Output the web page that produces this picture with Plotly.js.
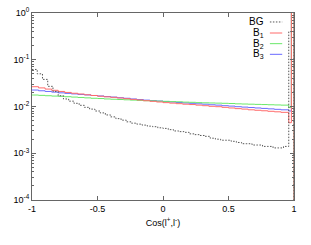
<!DOCTYPE html>
<html><head><meta charset="utf-8">
<script src="https://cdn.plot.ly/plotly-3.0.1.min.js"></script>
<style>html,body{margin:0;padding:0;background:#fff}#plot{width:311px;height:245px}</style>
</head><body><div id="plot"></div>
<script>
// BG histogram: bin left edges (width 0.04) and contents
const bgEdges = [-1.00,-0.96,-0.92,-0.88,-0.84,-0.80,-0.76,-0.72,-0.68,-0.64,-0.60,-0.56,-0.52,-0.48,-0.44,-0.40,-0.36,-0.32,-0.28,-0.24,-0.20,-0.16,-0.12,-0.08,-0.04,0.00,0.04,0.08,0.12,0.16,0.20,0.24,0.28,0.32,0.36,0.40,0.44,0.48,0.52,0.56,0.60,0.64,0.68,0.72,0.76,0.80,0.84,0.88,0.92,0.96];
const bgVals = [0.062,0.050,0.038,0.027,0.021,0.017,0.0145,0.0130,0.0117,0.0106,0.0096,0.0088,0.0080,0.0073,0.0066,0.0060,0.0055,0.0051,0.0047,0.0044,0.0042,0.0040,0.0038,0.0037,0.0035,0.0034,0.0032,0.0030,0.0029,0.0028,0.0026,0.0025,0.0024,0.0023,0.0021,0.0020,0.0019,0.0019,0.0018,0.0017,0.0016,0.0016,0.0015,0.0015,0.0014,0.0014,0.0013,0.0013,0.0014,0.40];
// Signal histograms: bin left edges and contents
const bEdges = [-1.0,-0.95,-0.9,-0.85,-0.8,-0.75,-0.7,-0.65,-0.6,-0.55,-0.5,-0.45,-0.4,-0.35,-0.3,-0.25,-0.2,-0.15,-0.1,-0.05,0.0,0.05,0.1,0.15,0.2,0.25,0.3,0.35,0.4,0.45,0.5,0.55,0.6,0.65,0.7,0.75,0.8,0.85,0.9,0.96,0.98];
const b1Vals = [0.0265,0.0250,0.0236,0.0222,0.0210,0.0200,0.0192,0.0185,0.0178,0.0172,0.0166,0.0161,0.0157,0.0152,0.0147,0.0142,0.0138,0.0133,0.0129,0.0125,0.0121,0.0118,0.0115,0.0112,0.0110,0.0107,0.0104,0.0101,0.0099,0.0096,0.0093,0.0090,0.0088,0.0085,0.0083,0.0081,0.0079,0.0077,0.0075,0.0045,30];
const b2Vals = [0.0176,0.0173,0.0170,0.0167,0.0165,0.0162,0.0159,0.0156,0.0153,0.0150,0.0148,0.0145,0.0143,0.0141,0.0139,0.0137,0.0135,0.0133,0.0132,0.0130,0.0129,0.0127,0.0126,0.0124,0.0123,0.0121,0.0120,0.0119,0.0118,0.0117,0.0116,0.0114,0.0113,0.0112,0.0111,0.0110,0.0109,0.0108,0.0107,0.0095,30];
const b3Vals = [0.0225,0.0217,0.0210,0.0203,0.0196,0.0191,0.0186,0.0181,0.0177,0.0172,0.0168,0.0163,0.0159,0.0154,0.0150,0.0145,0.0141,0.0137,0.0134,0.0131,0.0128,0.0125,0.0122,0.0119,0.0117,0.0114,0.0112,0.0109,0.0107,0.0104,0.0102,0.0099,0.0097,0.0095,0.0093,0.0091,0.0089,0.0087,0.0085,0.0080,30];
const names = ['BG','B<sub>1</sub>','B<sub>2</sub>','B<sub>3</sub>'];
const colors = ['#555555','#ff6a6a','#6ae86a','#6a6aff'];
const yTickVals = [1e-4,1e-3,1e-2,1e-1,1];
const yTickText = ['10<sup>-4</sup>','10<sup>-3</sup>','10<sup>-2</sup>','10<sup>-1</sup>','10<sup>0</sup>'];
const xTickVals = [-1,-0.5,0,0.5,1];
const xTickText = ['-1','-0.5','0','0.5','1'];
const xEnd = 1.0, yFloor = 1e-6;

function steps(edges, vals){
  const x = edges.slice(), y = vals.slice();
  x.push(xEnd); y.push(vals[vals.length-1]);
  x.push(xEnd); y.push(yFloor);
  return {x, y};
}
const dashes = ['1.5px,1.5px','solid','solid','solid'];
const series = [[bgEdges,bgVals],[bEdges,b1Vals],[bEdges,b2Vals],[bEdges,b3Vals]];
const traces = series.map((s,i)=>{
  const d = steps(s[0], s[1]);
  return {x:d.x, y:d.y, type:'scatter', mode:'lines', name:names[i],
    line:{shape:'hv', color:colors[i], width:1, dash:dashes[i]}, showlegend:false};
}).reverse();

const fontF = 'Liberation Sans, Arial, sans-serif';
// legend (gnuplot style: text then sample)
const annotations = [], shapes = [];
const legY = [0.952, 0.893, 0.836, 0.779];
names.forEach((n,i)=>{
  annotations.push({xref:'paper', yref:'paper', x:0.895, y:legY[i], xanchor:'right', yanchor:'middle',
    text:n, showarrow:false, font:{family:fontF, size:10, color:'#000'}});
  shapes.push({type:'line', xref:'paper', yref:'paper', x0:0.908, x1:0.955, y0:legY[i], y1:legY[i],
    line:{color:colors[i], width:1, dash:dashes[i]}});
});

const axCommon = {showline:true, mirror:'ticks', linecolor:'#666', linewidth:1, ticks:'inside',
  tickcolor:'#666', ticklen:4, showgrid:false, zeroline:false, tickfont:{family:fontF, size:9, color:'#000'}};
const layout = {
  width:311, height:245, margin:{l:32, r:17, t:13, b:45},
  paper_bgcolor:'#fff', plot_bgcolor:'#fff',
  xaxis:Object.assign({}, axCommon, {range:[-1,1], tickvals:xTickVals, ticktext:xTickText,
    title:{text:'Cos(l<sup>+</sup>,l<sup>-</sup>)', font:{family:fontF, size:9, color:'#000'}, standoff:6}}),
  yaxis:Object.assign({}, axCommon, {type:'log', range:[-4,0], tickvals:yTickVals, ticktext:yTickText,
    minor:{ticks:'inside', ticklen:2, tickcolor:'#666', dtick:'D1', showgrid:false}}),
  annotations, shapes, showlegend:false
};
Plotly.newPlot('plot', traces, layout, {staticPlot:true, displayModeBar:false});
</script></body></html>
